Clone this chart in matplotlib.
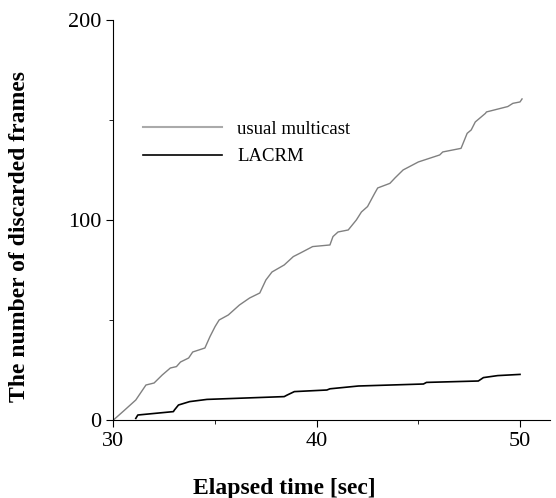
import matplotlib.pyplot as plt
from matplotlib.ticker import MultipleLocator

plt.rcParams['font.family'] = ['Liberation Serif', 'DejaVu Serif']

# usual multicast (gray)
mc_t = [30.0, 30.5, 31.1, 31.6, 32.0, 32.4, 32.8, 33.1, 33.3, 33.7, 33.9, 34.5,
        34.75, 35.0, 35.2, 35.65, 36.2, 36.7, 37.2, 37.5, 37.8, 38.4, 38.85, 39.2,
        39.8, 40.65, 40.8, 41.05, 41.55, 41.95, 42.2, 42.5, 42.85, 43.0, 43.6,
        43.85, 44.25, 45.0, 46.05, 46.2, 47.1, 47.4, 47.6, 47.8, 48.3, 48.35,
        49.4, 49.65, 50.0, 50.1]
mc_n = [0, 4.5, 10, 17.5, 18.5, 22.5, 26, 26.7, 29, 31, 34, 36,
        41.7, 46.7, 50, 52.5, 57.5, 61, 63.5, 70, 74, 77.5, 81.7, 83.5,
        86.7, 87.5, 91.7, 94, 95, 100, 104, 106.7, 113.3, 116, 118.3,
        121, 125, 129, 132.5, 134, 135.8, 143.3, 145, 149, 153.3, 154,
        156.7, 158.3, 159, 160.5]

# LACRM (black)
la_t = [31.1, 31.2, 32.95, 33.0, 33.2, 33.75, 34.6, 36.5, 38.4, 38.55, 38.9,
        40.5, 40.65, 42.05, 45.25, 45.4, 47.95, 48.2, 48.9, 50.0]
la_n = [0.8, 2.5, 4.2, 5, 7.5, 9.2, 10.3, 11, 11.7, 12.5, 14.2,
        15, 15.6, 17, 18, 18.8, 19.5, 21.2, 22.2, 22.8]

fig = plt.figure(figsize=(5.56, 4.98), dpi=100)
ax = fig.add_axes([0.204, 0.1566, 0.785, 0.8034])

ax.plot(mc_t, mc_n, color='#808080', lw=1.0, label='usual multicast')
ax.plot(la_t, la_n, color='black', lw=1.2, label='LACRM')

ax.set_xlim(30, 51.47)
ax.set_ylim(0, 200)
ax.spines['top'].set_visible(False)
ax.spines['right'].set_visible(False)
ax.xaxis.set_major_locator(MultipleLocator(10))
ax.xaxis.set_minor_locator(MultipleLocator(5))
ax.yaxis.set_major_locator(MultipleLocator(100))
ax.yaxis.set_minor_locator(MultipleLocator(50))
ax.tick_params(which='major', length=5, labelsize=16, direction='out')
ax.tick_params(which='minor', length=3, direction='out')

# axis titles placed like the original
fig.text(284 / 556, 1 - 488 / 498, 'Elapsed time [sec]', fontsize=17,
         fontweight='bold', ha='center', va='center')
fig.text(20 / 556, 1 - 237 / 498, 'The number of discarded frames', fontsize=17,
         fontweight='bold', ha='center', va='center', rotation=90)

leg = ax.legend(loc='upper left', bbox_to_anchor=(0.03, 0.79), frameon=False,
                fontsize=13.5, handlelength=4.2, handletextpad=0.8,
                labelspacing=0.55)
leg.get_lines()[0].set_color('#aaaaaa')
leg.get_lines()[0].set_linewidth(1.5)

fig.savefig('out.png', dpi=100)
